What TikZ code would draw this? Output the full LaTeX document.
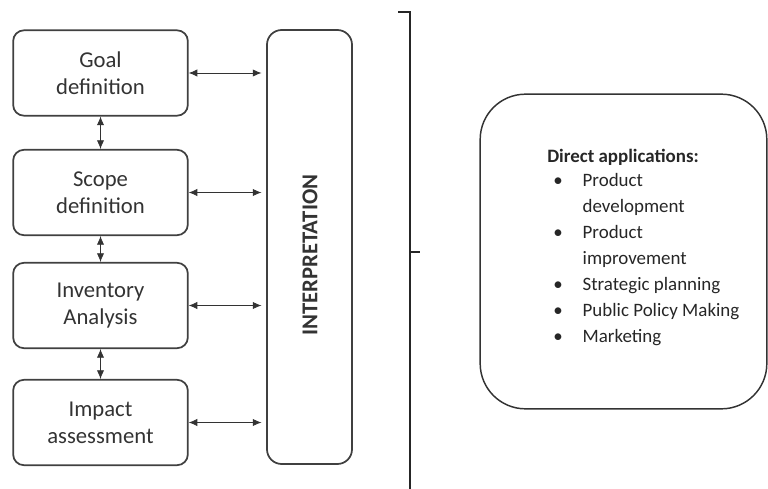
\documentclass[tikz,border=0pt]{standalone}
\usepackage{fontspec}
\setmainfont{Carlito}
\usetikzlibrary{arrows.meta}
\begin{document}
\begin{tikzpicture}[x=0.75pt,y=-0.75pt,
    stage/.style={draw=black!75,line width=1.3pt,rounded corners=8pt,minimum width=131pt,minimum height=64pt,align=center,text=black!80,font=\fontsize{17}{20}\selectfont},
    link/.style={{Latex[length=6.5pt,width=5.5pt]}-{Latex[length=6.5pt,width=5.5pt]},line width=0.6pt,black!80}]
        \useasboundingbox (0,0) rectangle (768,489);
        \node[stage] (goal) at (100.5,73) {Goal\\definition};
        \node[stage] (scope) at (100.5,192.5) {Scope\\definition};
        \node[stage] (inv) at (100.5,305.5) {Inventory\\Analysis};
        \node[stage] (impact) at (100.5,422.5) {Impact\\assessment};
        \node[stage,rounded corners=11pt,minimum width=63.75pt,minimum height=325.5pt] (interp) at (309.5,247) {};
        \node[rotate=90,text=black!80,font=\fontsize{17}{20}\selectfont\bfseries] (interptext) at (310,255) {INTERPRETATION};
        \draw[link] (goal) -- (scope);
        \draw[link] (scope) -- (inv);
        \draw[link] (inv) -- (impact);
        \foreach \s in {goal,scope,inv,impact}
            \draw[link,shorten >=3.5pt] (\s.east) -- (interp.west |- \s.east);
        \draw[line width=1.2pt,black!85] (398,12) -- (410,12) -- (410,489);
        \draw[line width=1.2pt,black!85] (410,252) -- (420,252);
        \node[draw=black!80,line width=1.1pt,rounded corners=34pt,minimum width=215pt,minimum height=236pt] (apps) at (623.5,251.5) {};
        \node[anchor=north west,inner sep=0pt,align=left,text=black!85,font=\fontsize{14.2}{19.4}\selectfont] (applist) at (547,149) {%
            \textbf{Direct applications:}\\[1.5pt]
            \begin{tabular}{@{\hspace{4.5pt}}l@{\hspace{15pt}}l@{}}
                \textbullet & Product\\
                            & development\\
                \textbullet & Product\\
                            & improvement\\
                \textbullet & Strategic planning\\
                \textbullet & Public Policy Making\\
                \textbullet & Marketing
            \end{tabular}};
\end{tikzpicture}
\end{document}
